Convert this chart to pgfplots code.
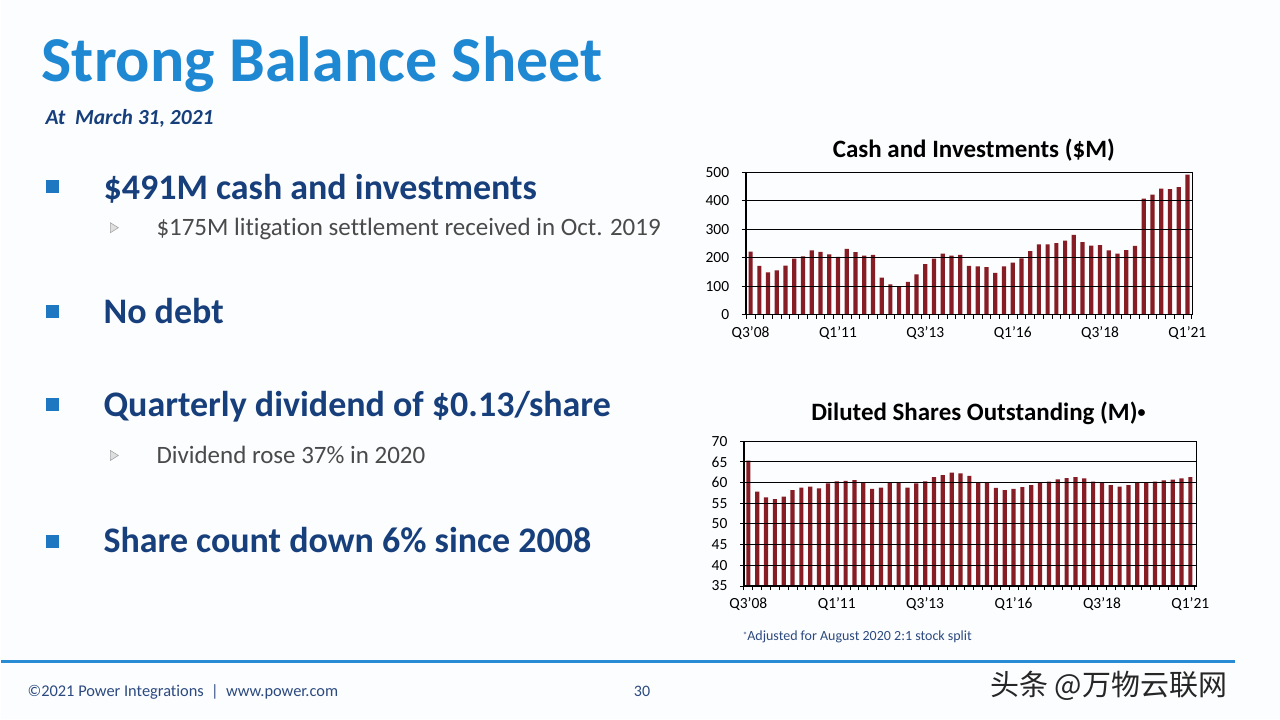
\documentclass[border=0pt]{standalone}
\usepackage{fontspec}
\setmainfont{Carlito}[Ligatures={NoCommon}]
\newfontfamily\cjk{Noto Sans CJK SC}
\usepackage{pgfplots}
\pgfplotsset{compat=1.18}
\definecolor{titleblue}{HTML}{1F88D3}
\definecolor{navy}{HTML}{173F7C}
\definecolor{subgray}{HTML}{4A4A4A}
\definecolor{barred}{HTML}{861C24}
\definecolor{bulletblue}{HTML}{1D78C1}
\definecolor{linebl}{HTML}{2A8BD5}
\definecolor{footblue}{HTML}{2C4A80}
\definecolor{bg}{HTML}{FCFDFE}

\pgfplotsset{
  slidebars/.style={
    scale only axis, anchor=south west,
    axis on top,
    ybar, bar width=4.2pt,
    ymajorgrids, grid style={black, line width=1.1pt},
    axis line style={black, line width=1.1pt},
    xtick={0.5,1.5,...,51.5}, xticklabels={},
    extra x ticks={1,11,21,31,41,51},
    extra x tick labels={Q3’08,Q1’11,Q3’13,Q1’16,Q3’18,Q1’21},
    extra x tick style={major tick length=0pt},
    xtick pos=bottom, ytick pos=left,
    tick align=outside, major tick length=4pt,
    tick style={black, line width=0.9pt},
    ticklabel style={font=\fontsize{15.5}{17}\selectfont, text=black},
    yticklabel style={xshift=-9pt},
    xticklabel style={yshift=-8pt},
    /pgf/number format/assume math mode=true,
  }
}

\begin{document}
\begin{tikzpicture}[x=1pt,y=1pt]
\fill[bg] (0,0) rectangle (1280,720);

% Title
\node[anchor=base west, inner sep=0, text=titleblue, font=\fontsize{64}{64}\selectfont\bfseries] at (40,638) {Strong Balance Sheet};
\node[anchor=base west, inner sep=0, text=navy, font=\fontsize{21.5}{22}\selectfont\bfseries\itshape] at (44,595) {At\ \ March 31, 2021};

% Bullets
\foreach \yy in {187,312,405,542} {
  \fill[bulletblue] (45,720-\yy-6.5) rectangle (58,720-\yy+6.5);
}
\foreach \yy in {228,456} {
  \filldraw[draw=gray!70, fill=gray!25, line width=0.6pt] (109,720-\yy+5) -- (117,720-\yy) -- (109,720-\yy-5) -- cycle;
}
\node[anchor=base west, inner sep=0, text=navy, font=\fontsize{36}{36}\selectfont\bfseries] at (102,520) {\$491M cash and investments};
\node[anchor=base west, inner sep=0, text=subgray, font=\fontsize{25}{25}\selectfont] at (155,484) {\$175M litigation settlement received in Oct. 2019};
\node[anchor=base west, inner sep=0, text=navy, font=\fontsize{36}{36}\selectfont\bfseries] at (102,396) {No debt};
\node[anchor=base west, inner sep=0, text=navy, font=\fontsize{36}{36}\selectfont\bfseries] at (102,303) {Quarterly dividend of \$0.13/share};
\node[anchor=base west, inner sep=0, text=subgray, font=\fontsize{25}{25}\selectfont] at (155,256) {Dividend rose 37\% in 2020};
\node[anchor=base west, inner sep=0, text=navy, font=\fontsize{36}{36}\selectfont\bfseries] at (102,167) {Share count down 6\% since 2008};

% Chart titles
\node[anchor=base, inner sep=0, text=black, font=\fontsize{25}{25}\selectfont\bfseries] at (973.5,562) {Cash and Investments (\$M)};
\node[anchor=base, inner sep=0, text=black, font=\fontsize{25}{25}\selectfont\bfseries] at (978,299) {Diluted Shares Outstanding (M){\fontsize{16}{16}\selectfont\raisebox{3pt}{•}}};

% Cash and investments chart
\begin{axis}[slidebars,
  at={(745pt,404.7pt)}, width=447pt, height=143pt,
  xmin=0.43, xmax=51.54, ymin=0, ymax=500,
  ytick={0,100,...,500}]
\addplot[fill=barred, draw=none] coordinates {
(1,222) (2,172) (3,149) (4,156) (5,173) (6,197) (7,205) (8,226) (9,221) (10,212)
(11,203) (12,231) (13,220) (14,208) (15,210) (16,131) (17,107) (18,99) (19,116) (20,142)
(21,178) (22,197) (23,215) (24,208) (25,210) (26,172) (27,170) (28,167) (29,147) (30,170)
(31,183) (32,198) (33,223) (34,247) (35,247) (36,251) (37,260) (38,280) (39,255) (40,243)
(41,244) (42,226) (43,215) (44,227) (45,242) (46,407) (47,421) (48,442) (49,440) (50,447)
(51,491)};
\draw[black, line width=2pt] (rel axis cs:0,0) -- (rel axis cs:0,1);
\end{axis}

% Diluted shares chart
\begin{axis}[slidebars,
  at={(743.3pt,133.3pt)}, width=453.4pt, height=145pt,
  xmin=0.5, xmax=51.73, ymin=35, ymax=70,
  ytick={35,40,...,70}]
\addplot[fill=barred, draw=none] coordinates {
(1,65.3) (2,57.8) (3,56.4) (4,56.0) (5,56.6) (6,58.2) (7,58.8) (8,59.0) (9,58.6) (10,59.8)
(11,60.3) (12,60.4) (13,60.6) (14,60.0) (15,58.5) (16,58.8) (17,60.0) (18,60.0) (19,58.8) (20,59.8)
(21,60.3) (22,61.3) (23,61.8) (24,62.4) (25,62.2) (26,61.6) (27,60.0) (28,60.0) (29,58.7) (30,58.2)
(31,58.5) (32,58.9) (33,59.4) (34,60.0) (35,60.2) (36,60.8) (37,61.1) (38,61.3) (39,61.0) (40,60.2)
(41,60.0) (42,59.4) (43,59.0) (44,59.4) (45,60.0) (46,60.0) (47,60.2) (48,60.5) (49,60.7) (50,61.0)
(51,61.3)};
\draw[black, line width=2pt] (rel axis cs:0,0) -- (rel axis cs:0,1);
\end{axis}

% Footnote
\node[anchor=base west, inner sep=0, text=footblue, font=\fontsize{14}{14}\selectfont] at (742,79) {\raisebox{2pt}{\fontsize{9}{9}\selectfont*}Adjusted for August 2020 2:1 stock split};

% Bottom line and footer
\draw[linebl, line width=3pt] (0,58) -- (1235,58);
\node[anchor=base west, inner sep=0, text=footblue, font=\fontsize{16.4}{17}\selectfont] at (26,23) {©2021 Power Integrations \ | \ www.power.com};
\node[anchor=base west, inner sep=0, text=footblue, font=\fontsize{16}{16}\selectfont] at (633,23) {30};

% Watermark
\node[anchor=base west, inner sep=0, text=black!85, font=\fontsize{29}{29}\cjk] at (990,24) {头条 @万物云联网};
\end{tikzpicture}
\end{document}
